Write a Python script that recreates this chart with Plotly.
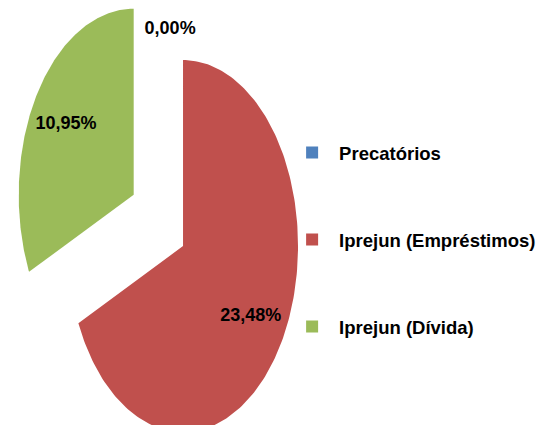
import numpy as np
import plotly.graph_objects as go

categories = ["Precatórios", "Iprejun (Empréstimos)", "Iprejun (Dívida)"]
values = [0.00, 23.48, 10.95]
labels = ["0,00%", "23,48%", "10,95%"]
colors = ["#4F81BD", "#C0504D", "#9BBB59"]
pulls = [0.0, 0.0, 0.51]

FONT = "Liberation Sans, Arial, sans-serif"

fig = go.Figure()
total = sum(values)
start = 0.0
label_x, label_y = [], []
for cat, v, col, pull in zip(categories, values, colors, pulls):
    span = 360.0 * v / total
    a0, a1 = start, start + span
    mid = np.radians((a0 + a1) / 2)
    ox, oy = pull * np.sin(mid), pull * np.cos(mid)
    if span > 0:
        t = np.radians(np.linspace(a0, a1, 200))
        xs = np.concatenate([[ox], ox + np.sin(t), [ox]])
        ys = np.concatenate([[oy], oy + np.cos(t), [oy]])
        fig.add_trace(go.Scatter(x=xs, y=ys, fill="toself", fillcolor=col,
                                 mode="lines", line=dict(width=0, color=col),
                                 showlegend=False, hoverinfo="skip"))
        label_x.append(ox + 0.7 * np.sin(mid))
        label_y.append(oy + 0.7 * np.cos(mid))
    else:
        ang = np.radians(a0 - 5.5)
        label_x.append(1.17 * np.sin(ang))
        label_y.append(1.17 * np.cos(ang))
    start = a1

fig.add_trace(go.Scatter(x=label_x, y=label_y, mode="text", text=labels,
                         textfont=dict(family=FONT, size=18, color="black", weight="bold"),
                         textposition="middle center", showlegend=False,
                         hoverinfo="skip"))

for i, (cat, col) in enumerate(zip(categories, colors)):
    fig.add_trace(go.Scatter(x=[None], y=[None], mode="markers", name=cat,
                             legendgroup=f"g{i}",
                             marker=dict(symbol="square", size=12, color=col)))

fig.update_layout(
    width=536, height=417,
    margin=dict(l=0, r=0, t=0, b=0),
    paper_bgcolor="white", plot_bgcolor="white",
    xaxis=dict(range=[-1.522, 3.139], visible=False, fixedrange=True),
    yaxis=dict(range=[-0.962, 1.280], visible=False, fixedrange=True),
    legend=dict(x=0.517, y=0.444, xanchor="left", yanchor="middle",
                font=dict(family=FONT, size=18.5, color="black", weight="bold"),
                tracegroupgap=60, itemwidth=44, bgcolor="rgba(0,0,0,0)",
                itemclick=False, itemdoubleclick=False),
    showlegend=True,
)

fig.write_html("out.html")
